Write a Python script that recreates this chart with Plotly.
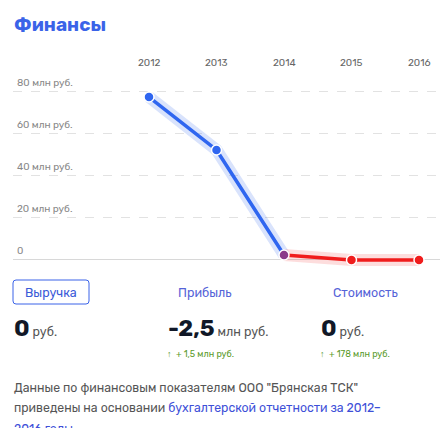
import plotly.graph_objects as go

years = [2012, 2013, 2014, 2015, 2016]
revenue = [77.6, 52.4, 2.4, 0.0, 0.0]  # млн руб.
y_ticks = [0, 20, 40, 60, 80]
y_tick_labels = ["0", "20 млн руб.", "40 млн руб.", "60 млн руб.", "80 млн руб."]

W, H = 448, 428
BLUE = "#2f66f0"
RED = "#f01c1c"
FONT = "Rubik, Roboto, sans-serif"


def px(x):
    return x / W


def py(y):
    return 1 - y / H


fig = go.Figure()

# glow under the lines
fig.add_trace(go.Scatter(x=years[:3], y=revenue[:3], mode="lines",
                         line=dict(color="rgba(47,102,240,0.18)", width=12),
                         hoverinfo="skip", showlegend=False))
fig.add_trace(go.Scatter(x=years[2:], y=revenue[2:], mode="lines",
                         line=dict(color="rgba(240,28,28,0.15)", width=12),
                         hoverinfo="skip", showlegend=False))
fig.add_trace(go.Scatter(x=years[:3], y=revenue[:3], mode="lines",
                         line=dict(color=BLUE, width=3.5), showlegend=False))
fig.add_trace(go.Scatter(x=years[2:], y=revenue[2:], mode="lines",
                         line=dict(color=RED, width=3.5), showlegend=False))
fig.add_trace(go.Scatter(x=years, y=revenue, mode="markers",
                         marker=dict(size=10, color=[BLUE, BLUE, "#8a3a8a", RED, RED],
                                     line=dict(color="white", width=1.5)),
                         showlegend=False))

ann = []


def note(x, y, text, xanchor="left", **kw):
    d = dict(x=x, y=y, text=text, xanchor=xanchor, yanchor="middle", showarrow=False)
    d.update(kw)
    ann.append(d)


for yr in years:
    note(yr, py(55), str(yr), "center", xref="x", yref="paper",
         font=dict(size=10, color="#666"))
for v, lab in zip(y_ticks, y_tick_labels):
    ann.append(dict(x=px(7), xref="paper", y=v, yref="y", text=lab, xanchor="left",
                    yanchor="bottom", yshift=1, showarrow=False,
                    font=dict(size=10, color="#888")))

note(px(4), py(16), "<b>Финансы</b>", xref="paper", yref="paper",
     font=dict(size=19, color="#3a63e8"))
note(px(43), py(284), "Выручка", "center", xref="paper", yref="paper",
     font=dict(size=12.5, color="#3a5bd8"))
note(px(197), py(284), "Прибыль", "center", xref="paper", yref="paper",
     font=dict(size=12.5, color="#5563d8"))
note(px(357), py(284), "Стоимость", "center", xref="paper", yref="paper",
     font=dict(size=12.5, color="#5563d8"))
for x0, big, small in [(4, "0", "руб."), (158, "-2,5", "млн руб."), (311, "0", "руб.")]:
    note(px(x0), py(320),
         f"<b><span style='font-size:23px;color:#111827'>{big}</span></b>"
         f" <span style='font-size:12.5px;color:#555'>{small}</span>",
         xref="paper", yref="paper")
for x0, t in [(157, "↑  + 1,5 млн руб."), (310, "↑  + 178 млн руб.")]:
    note(px(x0), py(346), t, xref="paper", yref="paper",
         font=dict(size=9, color="#5a9a2a"))
LINK = "#3d4fd8"
para = [
    "Данные по финансовым показателям ООО \"Брянская ТСК\"",
    f"приведены на основании <span style='color:{LINK}'>бухгалтерской отчетности за 2012–</span>",
    f"<span style='color:{LINK}'>2016 годы</span>.",
]
for i, line in enumerate(para):
    note(px(4), py(379 + i * 20.5), line, xref="paper", yref="paper",
         font=dict(size=12.3, color="#555"))

shapes = [dict(type="path", xref="paper", yref="paper",
               path=(f"M {px(8)},{py(272)} L {px(78)},{py(272)} Q {px(81)},{py(272)} {px(81)},{py(275)} "
                     f"L {px(81)},{py(293)} Q {px(81)},{py(296)} {px(78)},{py(296)} L {px(8)},{py(296)} "
                     f"Q {px(5)},{py(296)} {px(5)},{py(293)} L {px(5)},{py(275)} Q {px(5)},{py(272)} {px(8)},{py(272)} Z"),
               line=dict(color="#3a63e8", width=1))]

fig.update_layout(
    width=W, height=H, margin=dict(l=0, r=0, t=0, b=0),
    paper_bgcolor="white", plot_bgcolor="white", font=dict(family=FONT),
    xaxis=dict(domain=[px(5), px(438)], range=[2009.985, 2016.4], visible=False),
    yaxis=dict(domain=[py(258), py(80)], range=[-2.86, 81.9], tickvals=y_ticks,
               showticklabels=False, showgrid=True, gridcolor="#e2e2e2", griddash="dash",
               zeroline=True, zerolinecolor="#d8d8d8", zerolinewidth=1),
    annotations=ann, shapes=shapes,
)

fig.write_html("out.html")
